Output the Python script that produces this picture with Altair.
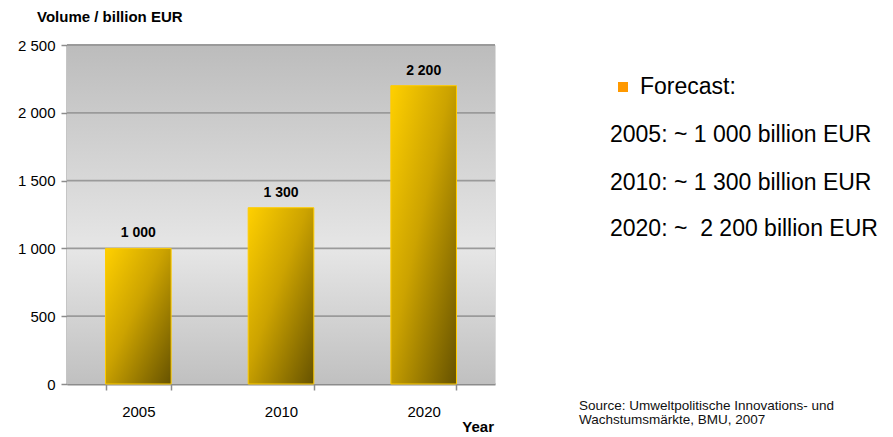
import altair as alt
import pandas as pd

years = ["2005", "2010", "2020"]
volumes = [1000, 1300, 2200]
y_ticks = [0, 500, 1000, 1500, 2000, 2500]
forecast_lines = [
    "2005: ~ 1 000 billion EUR",
    "2010: ~ 1 300 billion EUR",
    "2020: ~ \u00a02 200 billion EUR",
]
source_lines = [
    "Source: Umweltpolitische Innovations- und",
    "Wachstumsmärkte, BMU, 2007",
]

FONT = "Liberation Sans"
W, H = 428, 339
YSCALE = alt.Scale(domain=[0, 2500], nice=False)

bars_df = pd.DataFrame({
    "Year": years,
    "Volume": volumes,
    "Label": [f"{v:,}".replace(",", " ") for v in volumes],
})
grid_df = pd.DataFrame({"Volume": y_ticks[1:]})

xs = alt.X("Year:N", sort=years, title=None,
           scale=alt.Scale(paddingInner=0.54, paddingOuter=0.27),
           axis=alt.Axis(tickBand="extent", labelAngle=0, labelFont=FONT,
                         labelFontSize=15, labelColor="#000000", labelPadding=14,
                         tickColor="#8c8c8c", tickSize=6, tickWidth=1.5,
                         domainColor="#8c8c8c", domainWidth=2))
ys = alt.Y("Volume:Q", title=None, scale=YSCALE,
           axis=alt.Axis(values=y_ticks, grid=False, labelFont=FONT,
                         labelFontSize=15, labelColor="#000000", labelPadding=6,
                         labelExpr="replace(format(datum.value, ','), ',', ' ')",
                         tickColor="#8c8c8c", tickSize=6, tickWidth=1.5,
                         domainColor="#8c8c8c", domainWidth=2))

bg = alt.Chart(alt.Data(values=[{}])).mark_rect(
    color=alt.Gradient(
        gradient="linear", x1=0, y1=0, x2=0, y2=1,
        stops=[alt.GradientStop(offset=0, color="#bcbcbc"),
               alt.GradientStop(offset=0.6, color="#e6e6e6"),
               alt.GradientStop(offset=1, color="#c0c0c0")])
).encode(x=alt.value(0), x2=alt.value(W), y=alt.value(0), y2=alt.value(H))

grid = alt.Chart(grid_df).mark_rule(color="#9a9a9a", strokeWidth=1.8).encode(
    y=ys, x=alt.value(0), x2=alt.value(W))

bars = alt.Chart(bars_df).mark_bar(
    stroke="#FFCC00", strokeWidth=1,
    color=alt.Gradient(
        gradient="linear", x1=0, y1=0, x2=1, y2=1,
        stops=[alt.GradientStop(offset=0, color="#FFD000"),
               alt.GradientStop(offset=0.45, color="#CCA300"),
               alt.GradientStop(offset=1, color="#665200")])
).encode(x=xs, y=ys)

labels = alt.Chart(bars_df).mark_text(
    font=FONT, fontSize=14, fontWeight="bold", baseline="bottom", dy=-8, color="#000000"
).encode(x=xs, y=ys, text="Label:N")

def note(text, x, y, size, align="left", weight="normal", color="#000000", lh=None):
    kw = dict(font=FONT, fontSize=size, fontWeight=weight, align=align,
              baseline="middle", color=color)
    if lh is not None:
        kw["lineHeight"] = lh
    return alt.Chart(alt.Data(values=[{"t": text}])).mark_text(**kw).encode(
        x=alt.value(x), y=alt.value(y), text="t:N")

ytitle = note("Volume / billion EUR", -30, -28, 15, weight="bold")
xtitle = note("Year", 427, 382, 15, align="right", weight="bold")

bullet = alt.Chart(alt.Data(values=[{}])).mark_square(
    color="#FF9900", size=100, opacity=1, filled=True
).encode(x=alt.value(556), y=alt.value(42))

fc_title = note("Forecast:", 573, 42, 23)
fc_y = [90, 138, 184]
fc_layers = [note(t, 543, yy, 23) for t, yy in zip(forecast_lines, fc_y)]
src = note(source_lines, 512, 361, 13.5, color="#111111", lh=14)

chart = alt.layer(bg, grid, bars, labels, ytitle, xtitle, bullet, fc_title,
                  *fc_layers, src).properties(
    width=W, height=H,
    autosize=alt.AutoSizeParams(type="none"),
    padding={"left": 59, "top": 37, "right": 390, "bottom": 53},
).configure_view(stroke="#9a9a9a", strokeWidth=2).configure(background="#ffffff")

chart.save("out.html", embed_options={"renderer": "svg", "actions": False})
